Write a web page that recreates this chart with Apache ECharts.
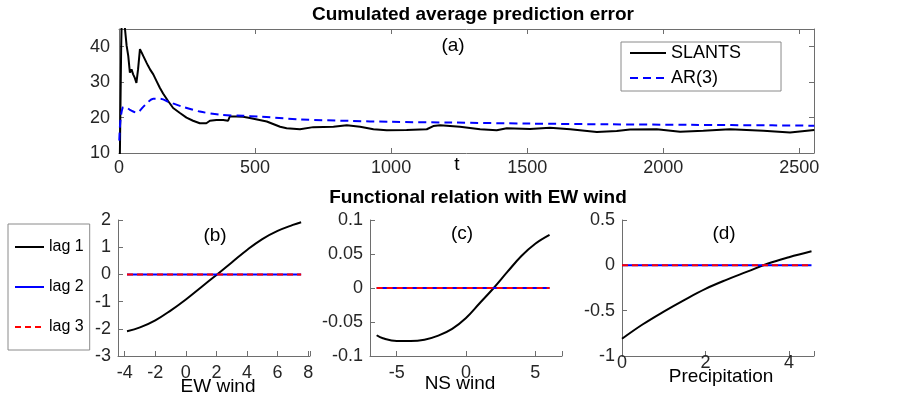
<!DOCTYPE html>
<html>
<head>
<meta charset="utf-8">
<script src="https://cdn.jsdelivr.net/npm/echarts@6/dist/echarts.min.js"></script>
<style>
html, body { margin: 0; padding: 0; background: #fff; }
#chart-container { width: 900px; height: 401px; }
</style>
</head>
<body>
<div id="chart-container"></div>
<script>
// (a) cumulated average prediction error
var slantsT = [3, 8, 12, 17, 22, 28, 34, 40, 46, 52, 58, 64, 70, 77, 83, 89, 101, 107, 114, 120, 126, 138, 150, 162, 181, 199, 224, 248, 272, 297, 321, 334, 358, 383, 401, 407, 432, 456, 481, 512, 543, 592, 616, 665, 714, 788, 837, 886, 935, 984, 1057, 1131, 1155, 1180, 1253, 1327, 1388, 1425, 1510, 1584, 1658, 1756, 1829, 1878, 1976, 2062, 2147, 2245, 2368, 2466, 2555];
var slantsV = [8, 40, 55, 50, 45, 40.3, 37.4, 32.7, 33.6, 32.2, 31.2, 29.8, 33.6, 39.3, 38.4, 37.4, 35.5, 34.6, 33.6, 34.1, 32.2, 30.3, 28.4, 26.8, 24.6, 22.7, 21.3, 20.0, 19.1, 18.4, 18.4, 19.1, 19.3, 19.3, 19.1, 20.3, 20.3, 20.2, 19.9, 19.4, 18.9, 17.4, 17.0, 16.7, 17.3, 17.4, 17.8, 17.4, 16.7, 16.4, 16.5, 16.7, 17.6, 17.8, 17.4, 16.7, 16.4, 17.0, 16.8, 17.1, 16.7, 15.9, 16.2, 16.6, 16.7, 16.0, 16.3, 16.7, 16.3, 15.8, 16.5];
var arT = [1, 5, 13, 22, 40, 65, 95, 126, 150, 187, 236, 297, 371, 456, 512, 665, 849, 996, 1216, 1510, 1800, 2100, 2400, 2555];
var arV = [13.5, 19, 22.7, 23.0, 22.2, 21.4, 23.5, 25.3, 25.3, 24.3, 23.0, 21.7, 20.8, 20.5, 20.3, 19.5, 19.06, 18.8, 18.6, 18.3, 18.1, 17.95, 17.8, 17.7];

// (b) EW wind
var bX = [-3.85, -3, -2, -1, 0, 1, 2, 3, 4, 5, 6, 7, 7.54];
var bY = [-2.09, -1.95, -1.69, -1.33, -0.92, -0.47, -0.02, 0.44, 0.9, 1.3, 1.6, 1.82, 1.92];
// (c) NS wind
var cX = [-6.45, -6, -5, -4, -3, -2, -1, 0, 1, 2, 3, 4, 5, 6.03];
var cY = [-0.0695, -0.074, -0.078, -0.078, -0.076, -0.070, -0.060, -0.044, -0.022, 0.0, 0.024, 0.047, 0.065, 0.078];
// (d) precipitation
var dX = [0, 0.5, 1, 1.5, 2, 2.5, 3, 3.5, 4, 4.54];
var dY = [-0.81, -0.65, -0.51, -0.38, -0.26, -0.16, -0.07, 0.02, 0.09, 0.155];
// lag 2 and lag 3 are flat at zero
var lag2Y = [0, 0];
var lag3Y = [0, 0];

var FONT = 'Liberation Sans, Arial, Helvetica, sans-serif';
var AXIS_GREY = '#6e6e6e';

function pairs(xs, ys) {
    return xs.map(function (x, i) { return [x, ys[i]]; });
}
function ends(xs, ys) {
    return [[xs[0], ys[0]], [xs[xs.length - 1], ys[1]]];
}
function tickFmt(step) {
    return function (v) {
        var k = v / step;
        if (Math.abs(k - Math.round(k)) > 1e-6) return '';
        return String(+v.toFixed(4));
    };
}
function valAxis(o) {
    return {
        type: 'value',
        gridIndex: o.grid,
        min: o.min,
        max: o.max,
        minInterval: o.step,
        maxInterval: o.step,
        position: o.position,
        axisLine: { show: true, onZero: false, lineStyle: { color: AXIS_GREY, width: 1 } },
        axisTick: { show: true, inside: true, length: 5, lineStyle: { color: AXIS_GREY } },
        axisLabel: {
            show: o.labels !== false,
            margin: o.margin,
            color: '#262626',
            fontSize: 18,
            fontFamily: FONT,
            formatter: tickFmt(o.step)
        },
        splitLine: { show: false }
    };
}
function txt(x, y, s, size, bold) {
    return {
        type: 'text', x: x, y: y, silent: true,
        style: {
            text: s, fontSize: size, fontFamily: FONT, fontWeight: bold ? 'bold' : 'normal',
            fill: '#000', align: 'center', verticalAlign: 'middle'
        }
    };
}

// legend keys are plain line samples, no marker
var noMarker = { color: 'rgba(0,0,0,0)', borderWidth: 0, opacity: 0 };

var option = {
    animation: false,
    backgroundColor: '#fff',
    grid: [
        { left: 119, top: 29, width: 695, height: 124 },
        { left: 118, top: 220, width: 192, height: 136 },
        { left: 370, top: 220, width: 192, height: 136 },
        { left: 622, top: 220, width: 192, height: 136 }
    ],
    xAxis: [
        valAxis({ grid: 0, min: 0, max: 2554, step: 500, position: 'bottom', margin: 6 }),
        valAxis({ grid: 0, min: 0, max: 2554, step: 500, position: 'top', labels: false }),
        valAxis({ grid: 1, min: -4.44, max: 8.12, step: 2, position: 'bottom', margin: 8 }),
        valAxis({ grid: 2, min: -6.93, max: 6.93, step: 5, position: 'bottom', margin: 8 }),
        valAxis({ grid: 3, min: 0, max: 4.6, step: 2, position: 'bottom', margin: -2 })
    ],
    yAxis: [
        valAxis({ grid: 0, min: 10, max: 45, step: 10, position: 'left', margin: 9 }),
        valAxis({ grid: 0, min: 10, max: 45, step: 10, position: 'right', labels: false }),
        valAxis({ grid: 1, min: -3, max: 2, step: 1, position: 'left', margin: 7 }),
        valAxis({ grid: 2, min: -0.1, max: 0.1, step: 0.05, position: 'left', margin: 7 }),
        valAxis({ grid: 3, min: -1, max: 0.5, step: 0.5, position: 'left', margin: 7 })
    ],
    legend: [
        {
            data: ['SLANTS', 'AR(3)'],
            orient: 'vertical', left: 621, top: 42,
            itemWidth: 36, itemHeight: 12, itemGap: 7,
            padding: [2, 40, 4, 8],
            borderColor: '#8a8a8a', borderWidth: 1,
            selectedMode: false,
            itemStyle: noMarker,
            textStyle: { fontSize: 18, lineHeight: 18, color: '#000', fontFamily: FONT }
        },
        {
            data: ['lag 1', 'lag 2', 'lag 3'],
            orient: 'vertical', left: 8, top: 224,
            itemWidth: 29, itemHeight: 12, itemGap: 24,
            padding: [15, 6, 15, 6],
            borderColor: '#8a8a8a', borderWidth: 1,
            selectedMode: false,
            itemStyle: noMarker,
            textStyle: { fontSize: 16, lineHeight: 16, color: '#000', fontFamily: FONT }
        }
    ],
    graphic: [
        txt(473, 15, 'Cumulated average prediction error', 19, true),
        txt(478, 198, 'Functional relation with EW wind', 19, true),
        txt(453, 46, '(a)', 19),
        txt(215, 236, '(b)', 19),
        txt(462, 234, '(c)', 19),
        txt(724, 234, '(d)', 19),
        txt(457, 165, 't', 19),
        txt(218, 387, 'EW wind', 19),
        txt(460, 384, 'NS wind', 19),
        txt(721, 377, 'Precipitation', 19)
    ],
    series: [
        {
            name: 'SLANTS', type: 'line', xAxisIndex: 0, yAxisIndex: 0,
            data: pairs(slantsT, slantsV), symbol: 'none', clip: true,
            lineStyle: { color: '#000', width: 2 }, itemStyle: { color: '#000' }
        },
        {
            name: 'AR(3)', type: 'line', xAxisIndex: 0, yAxisIndex: 0,
            data: pairs(arT, arV), symbol: 'none', smooth: 0.3, clip: true,
            lineStyle: { color: '#0000ff', width: 2, type: [8, 5] }, itemStyle: { color: '#0000ff' }
        }
    ]
};

[[bX, bY, 2], [cX, cY, 3], [dX, dY, 4]].forEach(function (p) {
    var xs = p[0], ys = p[1], ax = p[2];
    option.series.push({
        name: 'lag 1', type: 'line', xAxisIndex: ax, yAxisIndex: ax,
        data: pairs(xs, ys), symbol: 'none', smooth: 0.4,
        lineStyle: { color: '#000', width: 2 }, itemStyle: { color: '#000' }
    });
    option.series.push({
        name: 'lag 2', type: 'line', xAxisIndex: ax, yAxisIndex: ax,
        data: ends(xs, lag2Y), symbol: 'none',
        lineStyle: { color: '#0000ff', width: 2 }, itemStyle: { color: '#0000ff' }
    });
    option.series.push({
        name: 'lag 3', type: 'line', xAxisIndex: ax, yAxisIndex: ax,
        data: ends(xs, lag3Y), symbol: 'none',
        lineStyle: { color: '#ff0000', width: 2, type: [6, 4] }, itemStyle: { color: '#ff0000' }
    });
});

var myChart = echarts.init(document.getElementById('chart-container'));
myChart.setOption(option);
</script>
</body>
</html>
